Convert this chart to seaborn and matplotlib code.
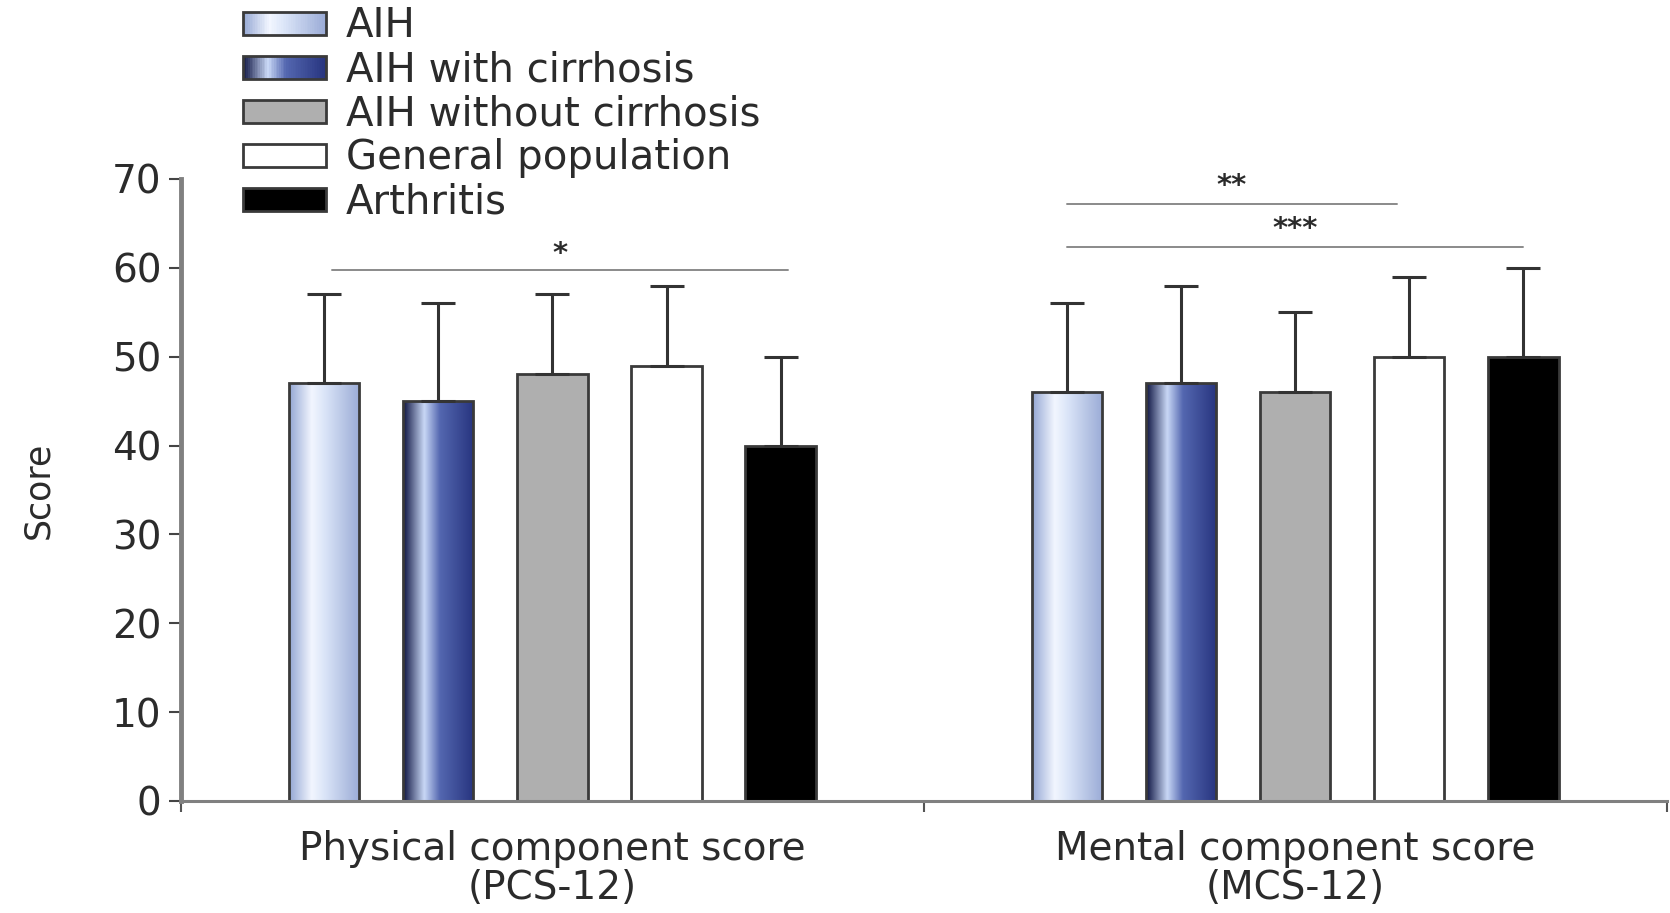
import numpy as np
import pandas as pd
import matplotlib
matplotlib.use("Agg")
import matplotlib.pyplot as plt
import seaborn as sns
from matplotlib.colors import LinearSegmentedColormap
from matplotlib.legend_handler import HandlerBase
from matplotlib.patches import Rectangle, Patch

# ---- data ----
components = ["Physical component score\n(PCS-12)", "Mental component score\n(MCS-12)"]
groups = ["AIH", "AIH with cirrhosis", "AIH without cirrhosis", "General population", "Arthritis"]
pcs_mean = [47, 45, 48, 49, 40]
pcs_sd = [10, 11, 9, 9, 10]
mcs_mean = [46, 47, 46, 50, 50]
mcs_sd = [10, 11, 9, 9, 10]
y_ticks = [0, 10, 20, 30, 40, 50, 60, 70]

df = pd.DataFrame({
    "component": [components[0]] * 5 + [components[1]] * 5,
    "group": groups * 2,
    "score": pcs_mean + mcs_mean,
    "sd": pcs_sd + mcs_sd,
})

# ---- style ----
sns.set_theme(style="ticks")
plt.rcParams["font.family"] = ["DejaVu Sans"]
TXT = "#2b2b2b"
EDGE = "#3a3a3a"

aih_cmap = LinearSegmentedColormap.from_list(
    "aih", [(0.0, "#93a6d3"), (0.32, "#f2f6ff"), (0.5, "#dbe5f8"), (1.0, "#9aabd6")])
cirr_cmap = LinearSegmentedColormap.from_list(
    "cirr", [(0.0, "#0c1240"), (0.3, "#c9d8f6"), (0.52, "#5467b0"), (1.0, "#27347f")])
palette = {"AIH": "#c5d3ef", "AIH with cirrhosis": "#2f3d88",
           "AIH without cirrhosis": "#afafaf", "General population": "#ffffff",
           "Arthritis": "#000000"}
gradients = {"AIH": aih_cmap, "AIH with cirrhosis": cirr_cmap}

fig = plt.figure(figsize=(16.7, 9.13), dpi=100)
ax = fig.add_axes([0.1084, 0.1227, 0.8896, 0.6813])

sns.barplot(data=df, x="component", y="score", hue="group", hue_order=groups,
            palette=palette, width=0.768, gap=0.384, errorbar=None,
            edgecolor=EDGE, linewidth=2.0, legend=False, ax=ax)

ax.set_xlim(-0.5, 1.5)
ax.set_ylim(0, 70)

# gradient fills, upward SD error bars
centers = {}
grad = np.linspace(0, 1, 256).reshape(1, -1)
for grp, cont in zip(groups, ax.containers):
    sub = df[df["group"] == grp]
    xs, ys = [], []
    for patch, (_, row) in zip(cont.patches, sub.iterrows()):
        x0 = patch.get_x()
        w = patch.get_width()
        h = patch.get_height()
        xs.append(x0 + w / 2)
        ys.append(h)
        if grp in gradients:
            im = ax.imshow(grad, cmap=gradients[grp], aspect="auto",
                           extent=(x0, x0 + w, 0, h), interpolation="bicubic",
                           zorder=patch.get_zorder() - 0.01)
            im.set_clip_path(patch)
            patch.set_facecolor("none")
    centers[grp] = xs
    ax.errorbar(xs, ys, yerr=[np.zeros(len(ys)), sub["sd"].values], fmt="none",
                ecolor="#333333", elinewidth=2.2, capsize=12, capthick=2.2, zorder=3)

ax.set_xlim(-0.5, 1.5)
ax.set_ylim(0, 70)

# significance brackets
sig_color = "#8a8a8a"
def sig_line(x0, x1, y, ytxt, label):
    ax.plot([x0, x1], [y, y], color=sig_color, lw=1.4, clip_on=False, zorder=3)
    ax.text((x0 + x1) / 2, ytxt, label, ha="center", va="center",
            fontsize=21, fontweight="bold", color=TXT, clip_on=False)

sig_line(centers["AIH"][0] + 0.01, centers["Arthritis"][0] + 0.01, 59.7, 61.6, "*")
sig_line(centers["AIH"][1], centers["General population"][1] - 0.017, 67.2, 69.2, "**")
sig_line(centers["AIH"][1], centers["Arthritis"][1], 62.3, 64.4, "***")

# axes styling
sns.despine(ax=ax)
ax.spines["left"].set_color("#808080")
ax.spines["left"].set_linewidth(3.5)
ax.spines["bottom"].set_color("#808080")
ax.spines["bottom"].set_linewidth(2.2)
ax.set_yticks(y_ticks)
ax.tick_params(axis="y", length=9, width=1.5, color="#444444", labelsize=28,
               labelcolor=TXT, pad=5)
ax.set_xticks([0, 1])
ax.set_xticks([-0.5, 0.5, 1.5], minor=True)
ax.tick_params(axis="x", which="major", length=0, labelsize=28, labelcolor=TXT, pad=21)
ax.tick_params(axis="x", which="minor", length=8, width=1.5, color="#555555")
ax.set_xticklabels(components, linespacing=1.02, fontsize=28, color=TXT)
ax.set_xlabel("")
ax.set_ylabel("Score", fontsize=25, color=TXT, labelpad=41)


# legend with gradient swatches
class GradientHandler(HandlerBase):
    def __init__(self, cmap):
        super().__init__()
        self.cmap = cmap

    def create_artists(self, legend, orig_handle, xdescent, ydescent,
                       width, height, fontsize, trans):
        n = 48
        arts = []
        for i in range(n):
            arts.append(Rectangle((-xdescent + width * i / n, -ydescent),
                                  width / n * 1.1, height,
                                  facecolor=self.cmap((i + 0.5) / n),
                                  edgecolor="none", transform=trans))
        arts.append(Rectangle((-xdescent, -ydescent), width, height,
                              facecolor="none", edgecolor=EDGE, lw=2.0,
                              transform=trans))
        return arts


handles = [Patch(facecolor=palette[g], edgecolor=EDGE, linewidth=2.0) for g in groups]
hmap = {handles[0]: GradientHandler(aih_cmap), handles[1]: GradientHandler(cirr_cmap)}
fig.legend(handles, groups, handler_map=hmap, loc="upper left",
           bbox_to_anchor=(0.1455, 0.993), frameon=False, fontsize=29,
           handlelength=2.05, handleheight=0.5, handletextpad=0.5,
           labelspacing=0.1, borderpad=0, borderaxespad=0, labelcolor=TXT)

fig.savefig("out.png", dpi=100, facecolor="white")
